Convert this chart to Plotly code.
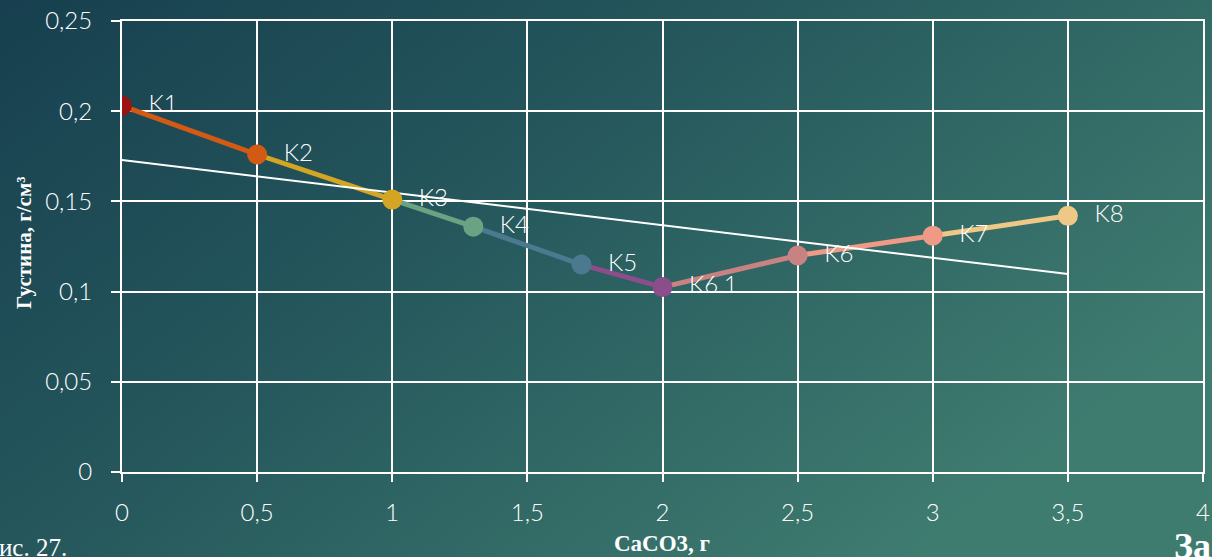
import base64
import numpy as np
import plotly.graph_objects as go

# ---- data ----
samples = ["K1", "K2", "K3", "K4", "K5", "K6.1", "K6", "K7", "K8"]
caco3_g = [0.0, 0.5, 1.0, 1.3, 1.7, 2.0, 2.5, 3.0, 3.5]
density = [0.203, 0.176, 0.151, 0.136, 0.115, 0.1025, 0.12, 0.131, 0.142]
point_colors = ["#9b1212", "#d35a14", "#d4a522", "#6aa383", "#4b7a90",
                "#8c4e8a", "#c98282", "#ee9a86", "#eec886"]
x_ticks = [0, 0.5, 1, 1.5, 2, 2.5, 3, 3.5, 4]
y_ticks = [0, 0.05, 0.1, 0.15, 0.2, 0.25]

W, H = 1212, 557
ML, MR, MT, MB = 122, 9, 21, 85
PW, PH = W - ML - MR, H - MT - MB

tick_font = dict(family="Lato, 'Open Sans', sans-serif", size=24, color="white", weight=300)


def py(px):
    """pixel row -> paper y"""
    return (MT + PH - px) / PH


def pxx(px):
    """pixel column -> paper x"""
    return (px - ML) / PW


fig = go.Figure()

# background gradient as an SVG image
svg = f'''<svg xmlns="http://www.w3.org/2000/svg" width="{W}" height="{H}" viewBox="0 0 {W} {H}" preserveAspectRatio="none">
<defs><linearGradient id="g" x1="0" y1="0" x2="1" y2="0.6">
<stop offset="0" stop-color="#173f4f"/>
<stop offset="0.45" stop-color="#25575c"/>
<stop offset="1" stop-color="#3f7c70"/>
</linearGradient></defs>
<rect width="{W}" height="{H}" fill="url(#g)"/></svg>'''
src = "data:image/svg+xml;base64," + base64.b64encode(svg.encode()).decode()
fig.add_layout_image(dict(source=src, xref="paper", yref="paper",
                          x=-ML / PW, y=1 + MT / PH, sizex=W / PW, sizey=H / PH,
                          xanchor="left", yanchor="top", sizing="stretch", layer="below"))

# colored segments
for i in range(len(caco3_g) - 1):
    fig.add_trace(go.Scatter(x=caco3_g[i:i + 2], y=density[i:i + 2], mode="lines",
                             line=dict(color=point_colors[i + 1], width=5),
                             hoverinfo="skip", showlegend=False))

# linear trend line
slope, intercept = np.polyfit(caco3_g, density, 1)
tx = [min(caco3_g), max(caco3_g)]
fig.add_trace(go.Scatter(x=tx, y=[slope * v + intercept for v in tx], mode="lines",
                         line=dict(color="white", width=2), hoverinfo="skip", showlegend=False))

# markers + labels
fig.add_trace(go.Scatter(x=caco3_g, y=density, mode="markers+text",
                         marker=dict(size=20, color=point_colors),
                         text=["  " + s for s in samples], textposition="middle right",
                         textfont=dict(family="Lato, 'Open Sans', sans-serif", size=24,
                                       color="white", weight=300),
                         showlegend=False))

axis_common = dict(showgrid=True, gridcolor="white", gridwidth=2, zeroline=False,
                   showline=True, linecolor="white", linewidth=2, mirror=True,
                   automargin=False,
                   ticks="outside", tickcolor="white", tickwidth=2, tickfont=tick_font)

fig.update_xaxes(range=[0, 4], tickvals=x_ticks, ticklen=8, ticklabelstandoff=10, **axis_common)
fig.update_yaxes(range=[0, 0.25], tickvals=y_ticks, ticklen=9, ticklabelstandoff=14, **axis_common)

serif = "Liberation Serif, 'Times New Roman', serif"
fig.update_layout(
    width=W, height=H, margin=dict(l=ML, r=MR, t=MT, b=MB, autoexpand=False),
    paper_bgcolor="#2a5e60", plot_bgcolor="rgba(0,0,0,0)",
    separators=", ", showlegend=False,
    annotations=[
        dict(text="<b>Густина, г/см³</b>", xref="paper", yref="paper",
             x=pxx(24), y=py(243), xanchor="center", yanchor="middle",
             textangle=-90, showarrow=False,
             font=dict(family=serif, size=21, color="white")),
        dict(text="<b>CaCO3, г</b>", xref="paper", yref="paper",
             x=pxx(662), y=py(543), xanchor="center", yanchor="middle", showarrow=False,
             font=dict(family=serif, size=23, color="white")),
        dict(text="Рис. 27.", xref="paper", yref="paper",
             x=pxx(69), xanchor="right", y=py(547), yanchor="middle",
             showarrow=False, font=dict(family=serif, size=25, color="white")),
        dict(text="<b>За</b>", xref="paper", yref="paper",
             x=pxx(1172), xanchor="left", y=py(524), yanchor="top",
             showarrow=False, font=dict(family=serif, size=36, color="white")),
    ],
)

fig.write_html("out.html", config={"displayModeBar": False},
               post_script="document.body.style.margin='0';document.body.style.overflow='hidden';")
